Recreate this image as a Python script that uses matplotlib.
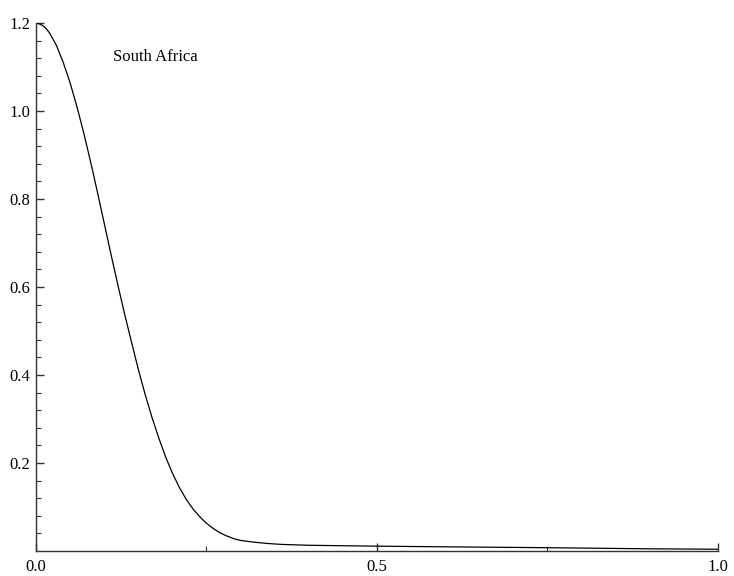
import matplotlib
matplotlib.use("Agg")
import matplotlib.pyplot as plt
from matplotlib.ticker import MultipleLocator, FixedLocator

# Data
x_vals = [0.00, 0.005, 0.01, 0.015, 0.02, 0.03, 0.04, 0.05, 0.06, 0.07, 0.08, 0.09, 0.10,
          0.11, 0.12, 0.13, 0.14, 0.15, 0.16, 0.17, 0.18, 0.19, 0.20,
          0.21, 0.22, 0.23, 0.24, 0.25, 0.26, 0.27, 0.28, 0.29, 0.30,
          0.32, 0.34, 0.36, 0.40, 0.45, 0.50, 0.60, 0.75, 0.90, 1.00]
y_vals = [1.200, 1.198, 1.194, 1.187, 1.177, 1.149, 1.110, 1.064, 1.010, 0.950, 0.885, 0.816, 0.745,
          0.674, 0.605, 0.538, 0.475, 0.413, 0.356, 0.304, 0.257, 0.214, 0.177,
          0.145, 0.118, 0.096, 0.078, 0.063, 0.051, 0.041, 0.034, 0.028, 0.024,
          0.020, 0.017, 0.015, 0.013, 0.012, 0.011, 0.0095, 0.0075, 0.005, 0.004]
x_major = [0.0, 0.5, 1.0]
x_minor = [0.25, 0.75]
y_major = [0.2, 0.4, 0.6, 0.8, 1.0, 1.2]
label_text = "South Africa"

plt.rcParams['font.family'] = ['Liberation Serif', 'DejaVu Serif']

fig = plt.figure(figsize=(7.34, 5.76), dpi=100)
ax = fig.add_axes([36/734, 25/576, 682/734, 528/576])

ax.plot(x_vals, y_vals, color='black', lw=0.9)

ax.set_xlim(0, 1.0)
ax.set_ylim(0, 1.2)

for s in ['top', 'right']:
    ax.spines[s].set_visible(False)
for s in ['left', 'bottom']:
    ax.spines[s].set_color('#333333')
    ax.spines[s].set_linewidth(1.0)

ax.xaxis.set_major_locator(FixedLocator(x_major))
ax.xaxis.set_minor_locator(FixedLocator(x_minor))
ax.yaxis.set_major_locator(FixedLocator(y_major))
ax.yaxis.set_minor_locator(MultipleLocator(0.04))
ax.set_xticklabels([f"{v:.1f}" for v in x_major])
ax.set_yticklabels([f"{v:.1f}" for v in y_major])

ax.tick_params(axis='both', which='major', direction='in', length=6, width=1.0,
               color='#333333', labelsize=12, pad=6)
ax.tick_params(axis='both', which='minor', direction='in', length=3.5, width=0.8,
               color='#333333')
ax.tick_params(axis='y', which='major', pad=4)

ax.text(0.113, 1.123, label_text, fontsize=12, ha='left', va='center')

fig.savefig('out.png', dpi=100)
